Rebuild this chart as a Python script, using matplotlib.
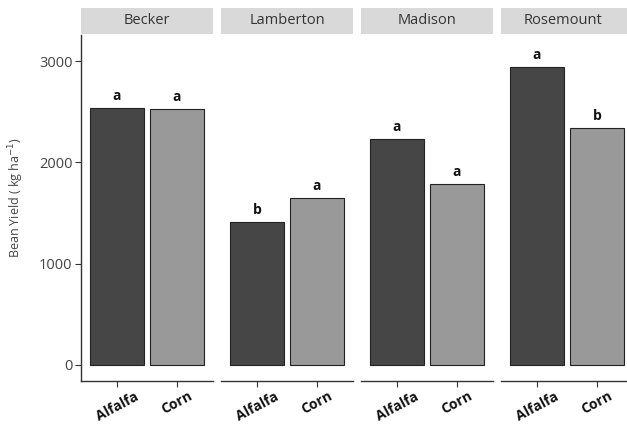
import matplotlib
matplotlib.use("Agg")
import matplotlib.pyplot as plt

sites = ["Becker", "Lamberton", "Madison", "Rosemount"]
crops = ["Alfalfa", "Corn"]
alfalfa = [2535, 1412, 2234, 2945]
corn = [2527, 1650, 1787, 2340]
letters_alfalfa = ["a", "b", "a", "a"]
letters_corn = ["a", "a", "a", "b"]
yticks = [0, 1000, 2000, 3000]

plt.rcParams['font.family'] = ['Open Sans', 'DejaVu Sans']

W, H = 627, 425
fig = plt.figure(figsize=(W / 100, H / 100), dpi=100)

panel_x = [(81, 213), (221, 353), (361, 493), (501, 633)]
y_bot, y_top = 381, 35
strip_top = 8
colors = ["#464646", "#999999"]

for i, site in enumerate(sites):
    x0, x1 = panel_x[i]
    ax = fig.add_axes([x0 / W, (H - y_bot) / H, (x1 - x0) / W, (y_bot - y_top) / H])
    vals = [alfalfa[i], corn[i]]
    lets = [letters_alfalfa[i], letters_corn[i]]
    pos = [1, 2]
    ax.bar(pos, vals, width=0.9, color=colors, edgecolor="#222222", linewidth=0.8)
    for p, v, l in zip(pos, vals, lets):
        ax.text(p, v + 50, l, ha="center", va="bottom", fontsize=10,
                fontweight="bold", color="#111111")
    ax.set_xlim(0.4, 2.6)
    ax.set_ylim(-160, 3257)
    ax.set_xticks(pos)
    ax.set_xticklabels(crops, rotation=28, fontsize=10, fontweight="bold",
                       color="#111111", ha="center", va="top")
    for s in ["top", "right"]:
        ax.spines[s].set_visible(False)
    ax.spines["bottom"].set_color("#333333")
    ax.spines["bottom"].set_linewidth(1.0)
    ax.tick_params(axis="x", length=4, color="#333333", pad=2)
    if i == 0:
        ax.set_yticks(yticks)
        ax.set_yticklabels([str(t) for t in yticks], fontsize=10.5, color="#444444")
        ax.tick_params(axis="y", length=4, color="#333333", pad=2)
        ax.spines["left"].set_color("#333333")
        ax.spines["left"].set_linewidth(1.0)
        ax.set_ylabel("Bean Yield ( kg ha$^{-1}$)", fontsize=9, color="#444444")
        ax.yaxis.set_label_coords(-0.42, 0.53)
    else:
        ax.spines["left"].set_visible(False)
        ax.set_yticks([])
    # strip
    sax = fig.add_axes([x0 / W, (H - (y_top - 1)) / H, (x1 - x0) / W, (y_top - 1 - strip_top) / H])
    sax.set_facecolor("#d9d9d9")
    sax.set_xticks([]); sax.set_yticks([])
    for s in sax.spines.values():
        s.set_visible(False)
    sax.text(0.5 if i < 3 else 0.47, 0.5, site, ha="center", va="center",
             fontsize=10.5, color="#333333", transform=sax.transAxes)

fig.savefig("out.png", dpi=100)
